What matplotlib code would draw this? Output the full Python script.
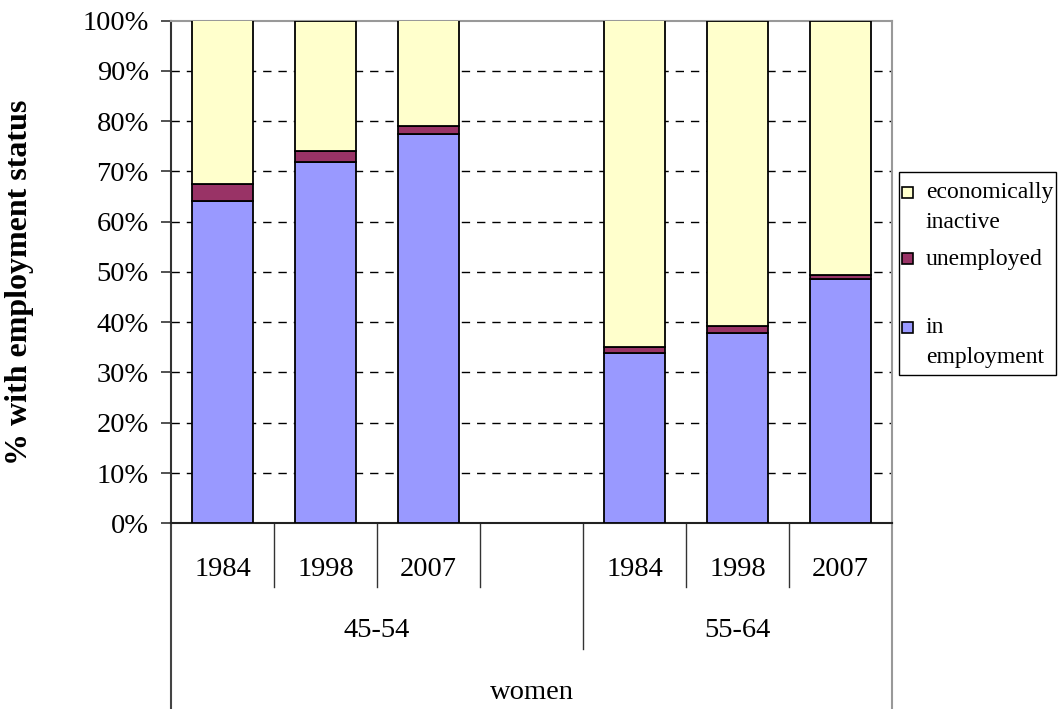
import matplotlib
matplotlib.use("Agg")
import matplotlib.pyplot as plt
from matplotlib.patches import Rectangle
import numpy as np

plt.rcParams['font.family'] = ['Liberation Serif', 'DejaVu Serif']

# women's employment status by age group and survey year (%)
years = ['1984', '1998', '2007', '1984', '1998', '2007']
groups = ['45-54', '55-64']
in_employment = [64.2, 71.8, 77.4, 33.8, 37.8, 48.5]
unemployed = [3.3, 2.2, 1.7, 1.2, 1.5, 0.8]
inactive = [32.5, 26.0, 20.9, 65.0, 60.7, 50.7]

series = ['economically\ninactive', 'unemployed', 'in\nemployment']
colors = ['#FFFFCC', '#993366', '#9999FF']

# slot 3 is an empty category that closes the first age group
pos = np.array([0, 1, 2, 4, 5, 6])

W, H = 1059, 709
fig = plt.figure(figsize=(W / 100, H / 100), dpi=100)
ax = fig.add_axes([171 / W, (H - 523.3) / H, (892 - 171) / W, (523.3 - 20.5) / H])

emp = np.array(in_employment)
une = np.array(unemployed)
ina = np.array(inactive)
bw = 0.59
ax.bar(pos, emp, bw, color=colors[2], edgecolor='black', linewidth=1.3, zorder=3)
ax.bar(pos, une, bw, bottom=emp, color=colors[1], edgecolor='black', linewidth=1.3, zorder=3)
ax.bar(pos, ina, bw, bottom=emp + une, color=colors[0], edgecolor='black', linewidth=1.3, zorder=3)

ax.set_xlim(-0.5, 6.5)
ax.set_ylim(0, 100)
ax.set_yticks(np.arange(0, 101, 10))
ax.set_yticklabels([f'{v}%' for v in range(0, 101, 10)], fontsize=20.5)
ax.tick_params(axis='y', direction='out', length=7, width=1.2, pad=9, color='#333333')
ax.set_xticks([])

# dashed gridlines between 10% and 90%
for v in range(10, 100, 10):
    ax.axhline(v, color='black', linewidth=1, linestyle=(0, (6, 5)), zorder=1)

for s in ['top', 'right']:
    ax.spines[s].set_color('#999999')
    ax.spines[s].set_linewidth(1.5)
ax.spines['left'].set_color('#333333')
ax.spines['left'].set_linewidth(1.5)
ax.spines['bottom'].set_color('#222222')
ax.spines['bottom'].set_linewidth(1.5)

ax.set_ylabel('% with employment status', fontsize=23, fontweight='bold')
ax.yaxis.set_label_coords(-0.19, 0.479)

# multi-level category axis
tr = ax.get_xaxis_transform()
for x in [0.5, 1.5, 2.5, 4.5, 5.5]:
    ax.plot([x, x], [0, -0.127], transform=tr, color='#333333', lw=1, clip_on=False)
ax.plot([3.5, 3.5], [0, -0.25], transform=tr, color='#333333', lw=1, clip_on=False)
ax.plot([-0.5, -0.5], [0, -0.38], transform=tr, color='#444444', lw=1.5, clip_on=False)
ax.plot([6.5, 6.5], [0, -0.38], transform=tr, color='#999999', lw=1.5, clip_on=False)

for x, y in zip(pos, years):
    ax.text(x, -0.091, y, transform=tr, ha='center', va='center', fontsize=20.5)
ax.text(1.5, -0.214, groups[0], transform=tr, ha='center', va='center', fontsize=20.5)
ax.text(5.0, -0.214, groups[1], transform=tr, ha='center', va='center', fontsize=20.5)
ax.text(3.0, -0.337, 'women', transform=tr, ha='center', va='center', fontsize=20.5)

# legend box drawn in figure pixels
def fx(px):
    return px / W

def fy(py):
    return (H - py) / H

fig.add_artist(Rectangle((fx(899), fy(375)), fx(1056) - fx(899), fy(172) - fy(375),
                         transform=fig.transFigure, facecolor='white',
                         edgecolor='black', linewidth=1))
rows = [(192, series[0]), (258.5, series[1]), (327, series[2])]
for (cy, label), c in zip(rows, colors):
    fig.add_artist(Rectangle((fx(901.5), fy(cy + 5.5)), 11 / W, 11 / H,
                             transform=fig.transFigure, facecolor=c,
                             edgecolor='black', linewidth=1.2))
    fig.text(fx(926), fy(cy - 10), label, ha='left', va='top', fontsize=17,
             linespacing=1.55)

fig.savefig('out.png', dpi=100)
